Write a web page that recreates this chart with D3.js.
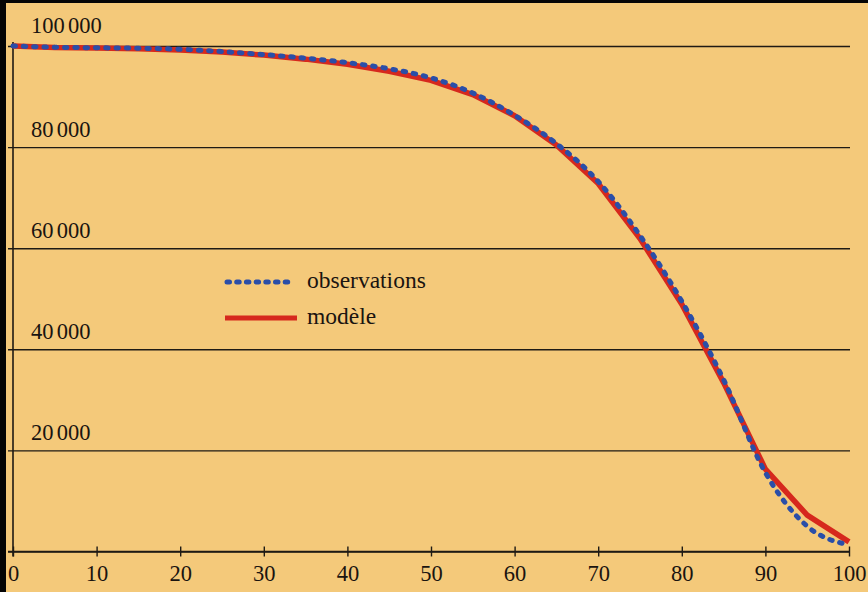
<!DOCTYPE html>
<html>
<head>
<meta charset="utf-8">
<script src="https://cdn.jsdelivr.net/npm/d3@7"></script>
<style>
  html, body { margin: 0; padding: 0; background: #000; }
  svg { display: block; }
  text { font-family: "Liberation Serif", "Times New Roman", serif; fill: #1a1410; }
</style>
</head>
<body>
<svg id="chart" width="868" height="592"></svg>
<script>
// Ages (years)
const ages = [0, 5, 10, 15, 20, 25, 30, 35, 40, 45, 50, 55, 60, 65, 70, 75, 80, 85, 90, 95, 100];
// Survivors out of 100 000 births — observed life table
const observations = [100000, 99750, 99650, 99550, 99350, 98900, 98300, 97600, 96700, 95500, 93700,
                      90700, 86300, 80700, 73200, 62500, 49500, 34000, 15600, 5000, 1300];
// Survivors out of 100 000 births — fitted model
const modele = [100000, 99700, 99600, 99450, 99200, 98800, 98200, 97400, 96400, 95000, 93200,
                90400, 86200, 80400, 72800, 61900, 48900, 33400, 16300, 7200, 1900];
// Axis ticks
const xTicks = [0, 10, 20, 30, 40, 50, 60, 70, 80, 90, 100];
const yTicks = [0, 20000, 40000, 60000, 80000, 100000];
const legendLabels = ["observations", "modèle"];

const BG = "#f4c97a", INK = "#1e1a14", BLUE = "#2a4ea8", RED = "#d6281d";

const svg = d3.select("#chart");
svg.append("rect").attr("width", 868).attr("height", 592).attr("fill", BG);
// dark frame edges
svg.append("rect").attr("x", 0).attr("y", 0).attr("width", 6).attr("height", 592).attr("fill", "#050505");
svg.append("rect").attr("x", 0).attr("y", 0).attr("width", 868).attr("height", 3).attr("fill", "#050505");

const x = d3.scaleLinear().domain([0, 100]).range([13, 849]);
const y = d3.scaleLinear().domain([0, 100000]).range([551.5, 46]);

const fr = d3.formatLocale({ decimal: ",", thousands: " ", grouping: [3], currency: ["", ""] });
const fmt = fr.format(",");

// Horizontal gridlines
const grid = svg.append("g").attr("transform", `translate(${x(0)},0)`)
  .call(d3.axisLeft(y).tickValues(yTicks).tickSize(-(850 - x(0))).tickFormat(""));
grid.select(".domain").remove();
grid.selectAll(".tick line").attr("x1", -5).attr("stroke", INK).attr("stroke-width", 1.4);

// Value labels above the gridlines
svg.append("g").selectAll("text").data(yTicks.filter(d => d > 0)).join("text")
  .attr("x", 31)
  .attr("y", d => y(d) - (d === 100000 ? 13 : 10))
  .attr("font-size", 22.5)
  .attr("word-spacing", "-2.5px")
  .text(d => fmt(d));

// Vertical axis line
svg.append("line")
  .attr("x1", x(0)).attr("x2", x(0))
  .attr("y1", y(100000) - 4).attr("y2", y(0) + 5)
  .attr("stroke", INK).attr("stroke-width", 1.6);

// Horizontal axis with crossing ticks
const xa = svg.append("g").attr("transform", `translate(0,${y(0)})`)
  .call(d3.axisBottom(x).tickValues(xTicks).tickSizeOuter(0).tickSize(5));
xa.select(".domain").remove();
xa.append("line").attr("x1", x(0) - 5).attr("x2", x(100) + 1).attr("stroke", INK).attr("stroke-width", 1.6);
xa.selectAll(".tick line").attr("y1", -5).attr("y2", 5).attr("stroke", INK).attr("stroke-width", 1.4);
xa.selectAll(".tick text")
  .attr("y", 29).attr("dy", 0)
  .attr("font-size", 22.5)
  .attr("font-family", "Liberation Serif, serif")
  .attr("fill", INK);

// Curves
const lineModel = d3.line().x((d, i) => x(ages[i])).y(d => y(d));
const lineObs = d3.line().x((d, i) => x(ages[i])).y(d => y(d)).curve(d3.curveMonotoneX);

svg.append("path").datum(modele)
  .attr("d", lineModel).attr("fill", "none")
  .attr("stroke", RED).attr("stroke-width", 5.5).attr("stroke-linejoin", "round");

svg.append("path").datum(observations)
  .attr("d", lineObs).attr("fill", "none")
  .attr("stroke", BLUE).attr("stroke-width", 5)
  .attr("stroke-linecap", "round").attr("stroke-dasharray", "2.5 7.8");

// Legend
const lg = svg.append("g");
lg.append("line").attr("x1", 227).attr("x2", 293).attr("y1", 282).attr("y2", 282)
  .attr("stroke", BLUE).attr("stroke-width", 5).attr("stroke-linecap", "round").attr("stroke-dasharray", "2.5 7.2");
lg.append("line").attr("x1", 225).attr("x2", 297).attr("y1", 318).attr("y2", 318)
  .attr("stroke", RED).attr("stroke-width", 5);
lg.selectAll("text").data(legendLabels).join("text")
  .attr("x", 307).attr("y", (d, i) => 288 + i * 36)
  .attr("font-size", 23.5)
  .text(d => d);
</script>
</body>
</html>
